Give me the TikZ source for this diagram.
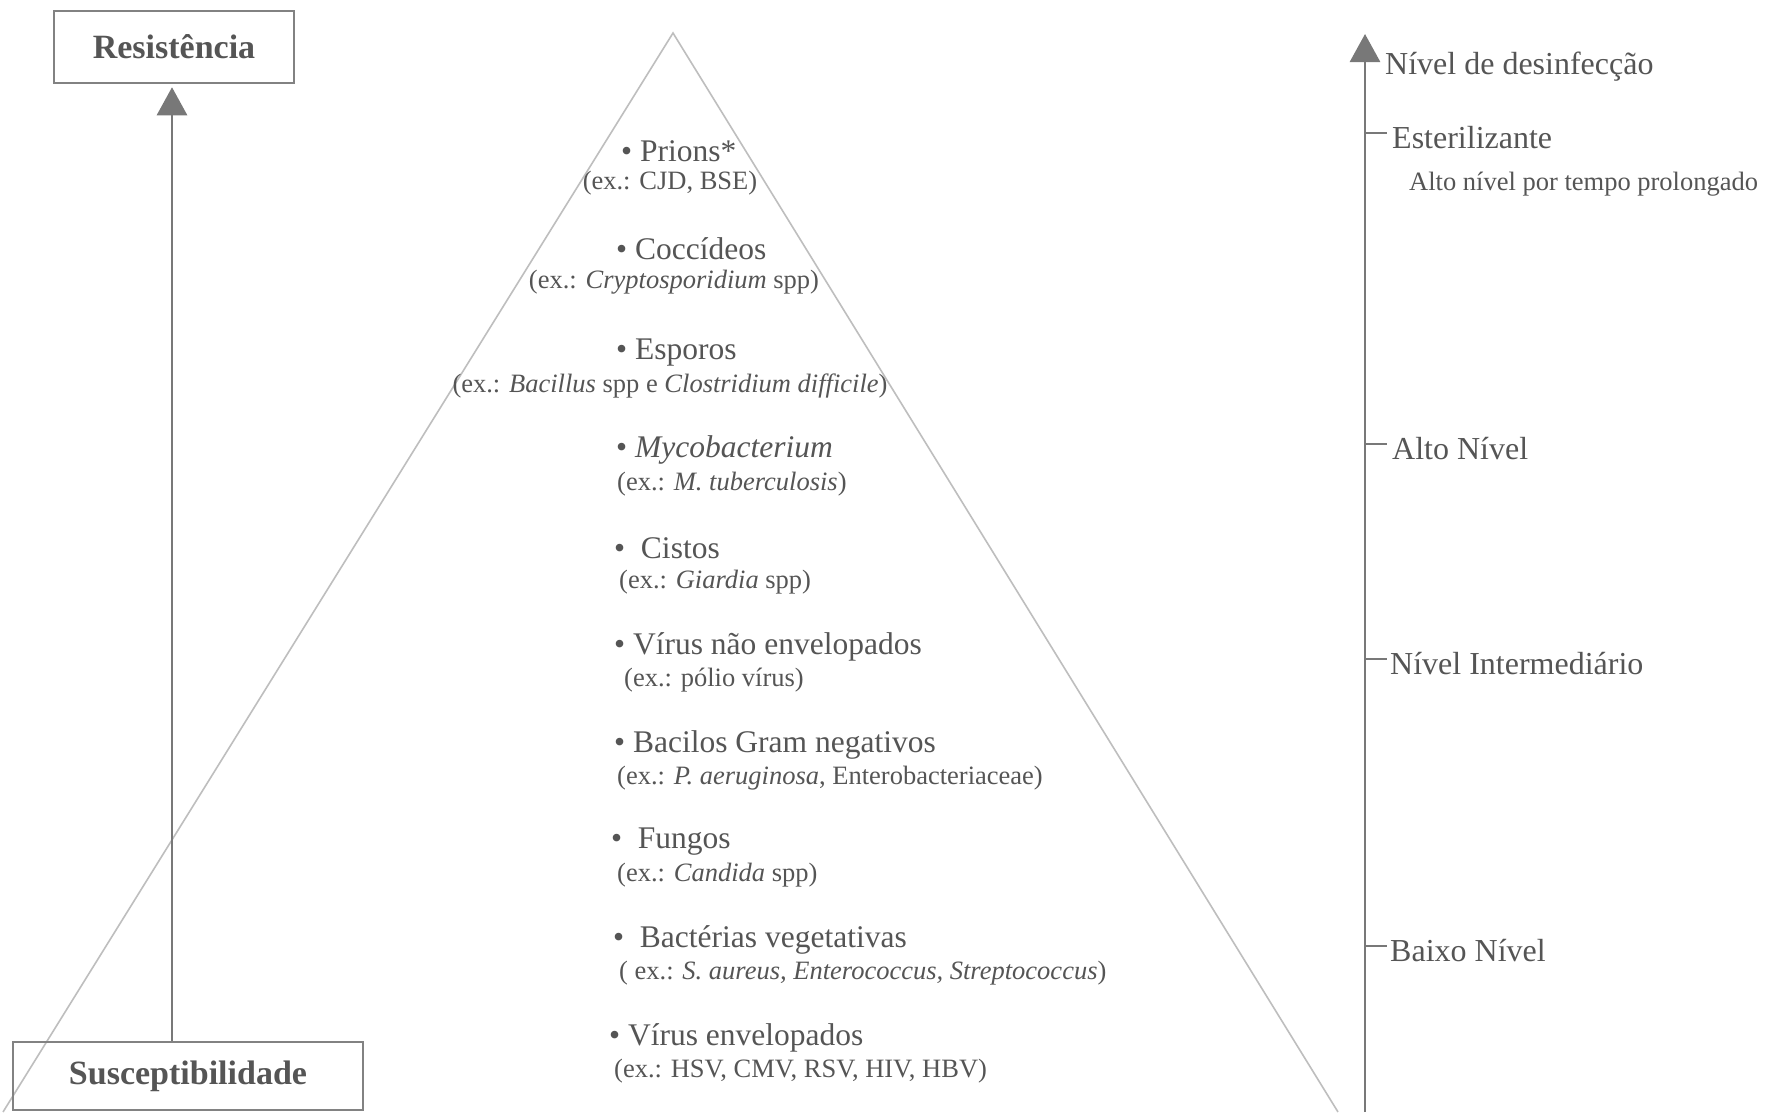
\documentclass[tikz,border=0pt]{standalone}
\usepackage{fontspec}
\setmainfont{Liberation Serif}
\usetikzlibrary{arrows.meta}
\definecolor{txt}{RGB}{85,85,85}
\definecolor{axis}{RGB}{120,120,120}
\definecolor{pyr}{RGB}{190,190,190}
\definecolor{boxc}{RGB}{130,130,130}
\tikzset{
  mainitem/.style={anchor=west, text=txt, inner sep=0pt, font=\fontsize{31.5}{36}\selectfont},
  subitem/.style={anchor=west, text=txt, inner sep=0pt, font=\fontsize{26.5}{30}\selectfont},
  subcenter/.style={subitem, anchor=center},
  levellabel/.style={anchor=west, text=txt, inner sep=0pt, font=\fontsize{32}{36}\selectfont},
  smalllabel/.style={anchor=west, text=txt, inner sep=0pt, font=\fontsize{26.5}{30}\selectfont},
  endbox/.style={draw=boxc, line width=2.5pt, text=txt, font=\fontsize{34}{40}\selectfont\bfseries, inner sep=0pt},
  axisline/.style={draw=axis, line width=2.8pt},
  tip/.style={-{Triangle[width=30pt,length=28pt]}},
  tick/.style={draw=axis, line width=2pt},
  pyrline/.style={draw=pyr, line width=1.6pt}
}
\begin{document}
\begin{tikzpicture}[x=1pt,y=-1pt]
\useasboundingbox (0,0) rectangle (1766,1112);
\fill[white] (0,0) rectangle (1766,1112);

% pyramid
\coordinate (apex) at (673,33);
\coordinate (bl) at (3,1112);
\coordinate (br) at (1338,1112);
\draw[pyrline] (bl) -- (apex) -- (br);

% boxes and left arrow
\node[endbox, minimum width=240pt, minimum height=72pt] (res) at (174,47) {Resistência};
\node[endbox, minimum width=350pt, minimum height=68pt] (susc) at (188,1076) {Susceptibilidade};
\draw[axisline, tip, shorten >=3pt] (susc.north -| 172,0) -- (res.south -| 172,0);

% right axis
\coordinate (axtop) at (1365,34);
\coordinate (axbot) at (1365,1112);
\draw[axisline, tip] (axbot) -- (axtop);
\node[levellabel] (nivel) at (1385,67) {Nível de desinfecção};

\coordinate (t1) at (1365,133);
\coordinate (t2) at (1365,444);
\coordinate (t3) at (1365,659);
\coordinate (t4) at (1365,946);
\draw[tick] (t1) -- ++(22,0);
\draw[tick] (t2) -- ++(22,0);
\draw[tick] (t3) -- ++(22,0);
\draw[tick] (t4) -- ++(22,0);
\node[levellabel] (ester) at (1392,138) {Esterilizante};
\node[smalllabel] (prolong) at (1409,184) {Alto nível por tempo prolongado};
\node[levellabel] (alto) at (1392,449) {Alto Nível};
\node[levellabel] (inter) at (1390,664) {Nível Intermediário};
\node[levellabel] (baixo) at (1390,951) {Baixo Nível};

% pyramid items
\node[mainitem] (m1) at (621,151) {\textbullet\ Prions*};
\node[subcenter] (s1) at (670,183) {(ex.: CJD, BSE)};
\node[mainitem] (m2) at (616,249) {\textbullet\ Coccídeos};
\node[subcenter] (s2) at (674,282) {(ex.: \textit{Cryptosporidium} spp)};
\node[mainitem] (m3) at (616,353) {\textbullet\ Esporos};
\node[subcenter] (s3) at (670,386) {(ex.: \textit{Bacillus} spp e \textit{Clostridium difficile})};
\node[mainitem] (m4) at (616,450) {\textbullet\ \textit{Mycobacterium}};
\node[subitem] (s4) at (617,484) {(ex.: \textit{M. tuberculosis})};
\node[mainitem] (m5) at (614,548) {\textbullet\ \ Cistos};
\node[subitem] (s5) at (619,582) {(ex.: \textit{Giardia} spp)};
\node[mainitem] (m6) at (614,647) {\textbullet\ Vírus não envelopados};
\node[subitem] (s6) at (624,680) {(ex.: pólio vírus)};
\node[mainitem] (m7) at (614,745) {\textbullet\ Bacilos Gram negativos};
\node[subitem] (s7) at (617,778) {(ex.: \textit{P. aeruginosa}, Enterobacteriaceae)};
\node[mainitem] (m8) at (611,842) {\textbullet\ \ Fungos};
\node[subitem] (s8) at (617,875) {(ex.: \textit{Candida} spp)};
\node[mainitem] (m9) at (613,940) {\textbullet\ \ Bactérias vegetativas};
\node[subitem] (s9) at (619,973) {( ex.: \textit{S. aureus, Enterococcus, Streptococcus})};
\node[mainitem] (m10) at (609,1038) {\textbullet\ Vírus envelopados};
\node[subitem] (s10) at (614,1071) {(ex.: HSV, CMV, RSV, HIV, HBV)};
\end{tikzpicture}
\end{document}
